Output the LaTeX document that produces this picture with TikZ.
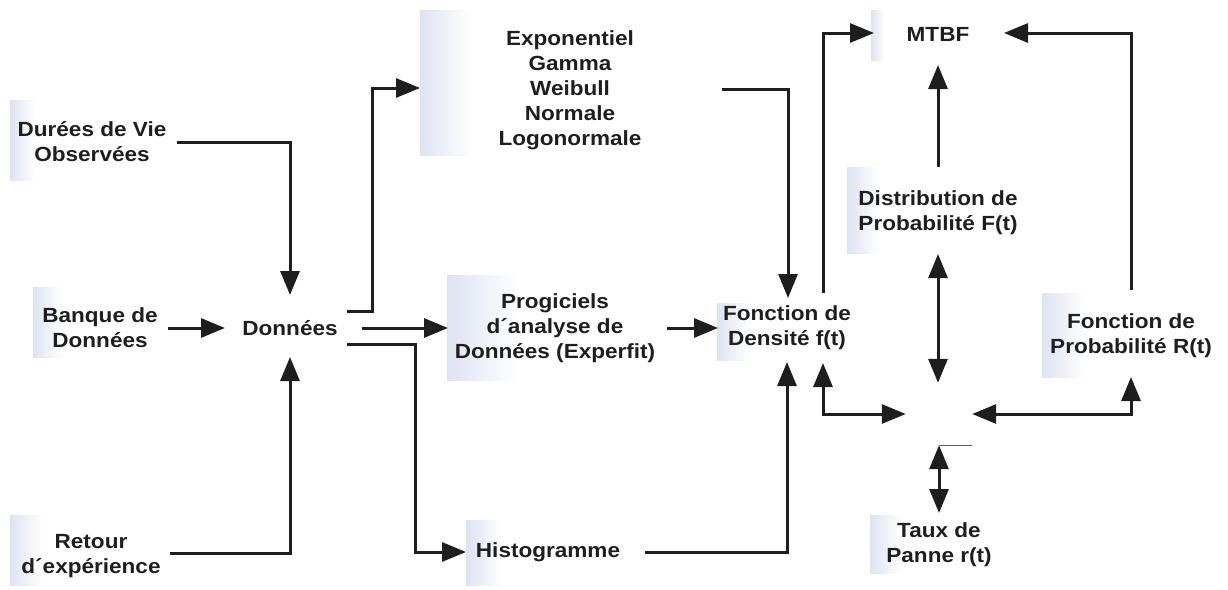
\documentclass[tikz,border=0pt]{standalone}
\usepackage{fontspec}
\setmainfont{Liberation Sans}[FakeStretch=1.1]
\usetikzlibrary{arrows.meta}
\definecolor{ink}{RGB}{30,30,30}
\definecolor{haze}{RGB}{222,227,242}
\tikzset{
  lbl/.style={inner sep=0pt, align=center, text=ink,
    font=\fontsize{20.5}{25}\selectfont\bfseries},
  link/.style={draw=ink, line width=3pt, -{Triangle[length=24pt,width=19pt]}},
  dlink/.style={draw=ink, line width=3pt,
    {Triangle[length=24pt,width=19pt]}-{Triangle[length=24pt,width=19pt]}},
  strip/.style={left color=haze, right color=white, draw=none},
}
\begin{document}
\begin{tikzpicture}[x=1pt,y=-1pt]
\useasboundingbox (0,0) rectangle (1228,589);

% soft tinted strips on the left of the labels
\fill[strip] (10,100) rectangle (35,180);
\fill[strip] (33,287) rectangle (62,357);
\fill[strip] (10,515) rectangle (42,585);
\fill[strip] (420,10) rectangle (472,155);
\fill[strip] (447,275) rectangle (519,380);
\fill[strip] (466,520) rectangle (502,585);
\fill[strip] (717,303) rectangle (750,360);
\fill[strip] (871,10) rectangle (885,60);
\fill[strip] (847,167) rectangle (880,253);
\fill[strip] (1042,293) rectangle (1085,377);
\fill[strip] (870,515) rectangle (902,573);

% labels
\node[lbl] (durees) at (92,142) {Durées de Vie\\Observées};
\node[lbl] (banque) at (100,328) {Banque de\\Données};
\node[lbl] (retour) at (91,556) {Retour\\d´expérience};
\node[lbl] (donnees) at (290,328) {Données};
\node[lbl] (expo) at (570,90) {Exponentiel\\Gamma\\Weibull\\Normale\\Logonormale};
\node[lbl] (prog) at (555,328) {Progiciels\\d´analyse de\\Données (Experfit)};
\node[lbl] (histo) at (548,552) {Histogramme};
\node[lbl] (fdens) at (787,328) {Fonction de\\Densité f(t)};
\node[lbl] (mtbf) at (938,34) {MTBF};
\node[lbl] (distr) at (938,213) {Distribution de\\Probabilité F(t)};
\node[lbl] (fprob) at (1131,336) {Fonction de\\Probabilité R(t)};
\node[lbl] (taux) at (939,545) {Taux de\\Panne r(t)};
\node[inner sep=0pt, minimum width=66pt, minimum height=62pt] (hub) at (939,414) {};

% connectors
\draw[link] ([xshift=85pt]durees.center) -| ([yshift=33pt]donnees.center);
\draw[link] ([xshift=68pt]banque.center) -- ([xshift=-65pt]donnees.center);
\draw[link] ([xshift=79pt,yshift=3pt]retour.center) -| ([yshift=-29pt]donnees.center);
\draw[link] ([xshift=57pt,yshift=17pt]donnees.center) -- ++(25,0)
  |- ([xshift=-150pt,yshift=2pt]expo.center);
\draw[link] ([xshift=72pt]donnees.center) -- ([xshift=-107pt]prog.center);
\draw[link] ([xshift=57pt,yshift=-16pt]donnees.center) -- ++(68,0)
  |- ([xshift=-82pt]histo.center);
\draw[link] ([xshift=112pt]prog.center) -- ([xshift=-69pt]fdens.center);
\draw[link] ([xshift=152pt,yshift=1pt]expo.center) -| ([xshift=1pt,yshift=30pt]fdens.center);
\draw[link] ([xshift=97pt]histo.center) -| ([yshift=-34pt]fdens.center);
\draw[link] ([xshift=36pt,yshift=35pt]fdens.center) |- ([xshift=-64pt,yshift=1pt]mtbf.center);
\draw[link] ([yshift=46pt]fprob.center) |- ([xshift=66pt,yshift=1pt]mtbf.center);
\draw[link] ([yshift=46pt]distr.center) -- ([yshift=-31pt]mtbf.center);
\draw[dlink] ([yshift=-41pt]distr.center) -- (distr.center |- hub.north);
\draw[dlink] ([xshift=36pt,yshift=-35pt]fdens.center) |- (hub.west);
\draw[dlink] ([yshift=-41pt]fprob.center) |- (hub.east);
\draw[dlink] (hub.south) -- ([yshift=32pt]taux.center);
\draw[ink!70, line width=0.5pt] (hub.south) -- (hub.south east);
\end{tikzpicture}
\end{document}
